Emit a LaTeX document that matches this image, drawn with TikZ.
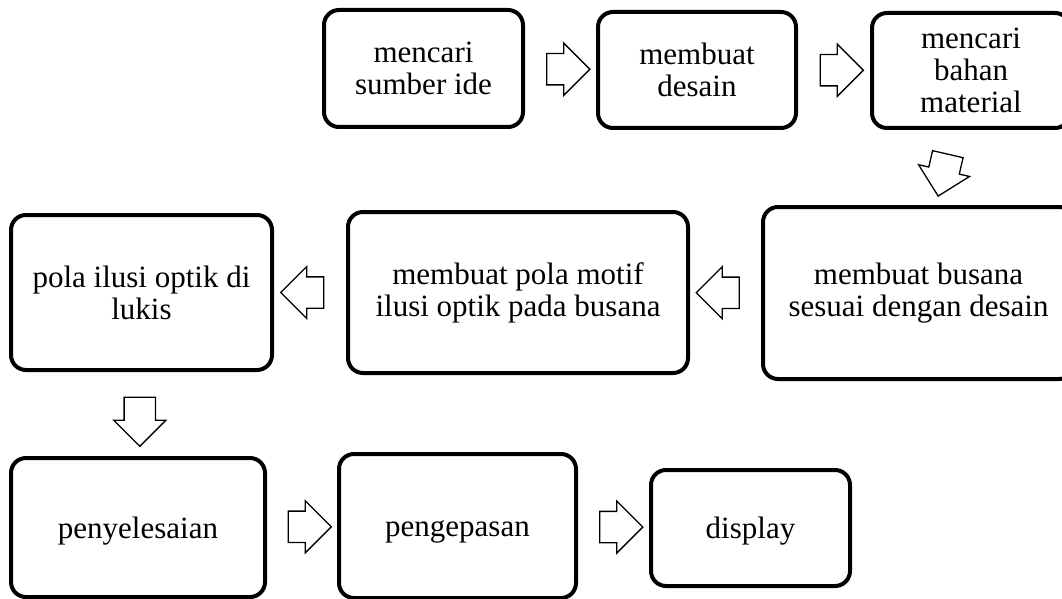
\documentclass[tikz,border=0pt]{standalone}
\usepackage{fontspec}
\setmainfont{Liberation Serif}
\usetikzlibrary{shapes.arrows, calc}

\tikzset{
  stage/.style={draw, line width=4pt, rounded corners=15pt, align=center,
    font=\fontsize{31}{32}\selectfont, inner sep=0pt},
  oneline/.style={text height=21pt, text depth=0pt},
  blockarrow/.style={draw, single arrow, line width=1.3pt, minimum height=43pt,
    single arrow head extend=10.5pt, inner xsep=0pt, inner ysep=15pt,
    text height=0pt, text depth=0pt}
}

\begin{document}
\begin{tikzpicture}[x=1pt, y=-1pt]
    \useasboundingbox (0,0) rectangle (1062,599);

    % boxes
    \node[stage, minimum width=199pt, minimum height=117pt] (ide) at (423.5,68.5) {mencari\\sumber ide};
    \node[stage, minimum width=198pt, minimum height=116pt] (desain) at (697,70) {membuat\\desain};
    \node[stage, minimum width=198pt, minimum height=115pt] (bahan) at (971,70.5) {mencari\\bahan\\material};
    \node[stage, minimum width=311pt, minimum height=172pt] (busana) at (918.5,293) {membuat busana\\sesuai dengan desain};
    \node[stage, minimum width=340pt, minimum height=161pt] (motif) at (518,292.5) {membuat pola motif\\ilusi optik pada busana};
    \node[stage, minimum width=261pt, minimum height=155pt] (lukis) at (141.5,292.5) {pola ilusi optik di\\lukis};
    \node[stage, oneline, minimum width=254pt, minimum height=139pt] (selesai) at (138,527.5) {penyelesaian};
    \node[stage, oneline, minimum width=237pt, minimum height=144pt] (pas) at (457.5,526) {pengepasan};
    \node[stage, oneline, minimum width=199pt, minimum height=116pt] (display) at (750.5,528) {display};

    % block arrows between the boxes
    \node[blockarrow] (p1) at ($(ide.east)!0.5!(desain.west)$) {};
    \node[blockarrow] (p2) at ($(desain.east)!0.5!(bahan.west)$) {};
    \node[blockarrow, rotate=-103] (p3) at ($(bahan.south)!0.5!(busana.north)$) {};
    \node[blockarrow, rotate=180] (p4) at ($(busana.west)!0.5!(motif.east)$) {};
    \node[blockarrow, rotate=180] (p5) at ($(motif.west)!0.5!(lukis.east)$) {};
    \node[blockarrow, rotate=-90, minimum height=49pt] (p6) at ($(lukis.south)!0.5!(selesai.north)$) {};
    \node[blockarrow] (p7) at ($(selesai.east)!0.5!(pas.west)$) {};
    \node[blockarrow] (p8) at ($(pas.east)!0.5!(display.west)$) {};
\end{tikzpicture}
\end{document}
